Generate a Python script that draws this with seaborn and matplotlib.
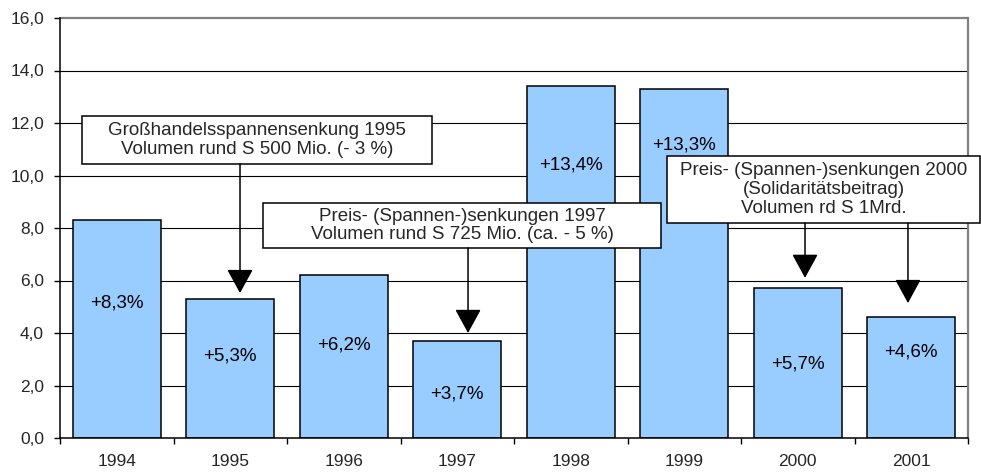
import matplotlib
matplotlib.use("Agg")
import matplotlib.pyplot as plt
from matplotlib.patches import Rectangle
from matplotlib.ticker import FixedLocator, FuncFormatter
import numpy as np
import pandas as pd
import seaborn as sns

# Jährliche Veränderung in Prozent
years = ["1994", "1995", "1996", "1997", "1998", "1999", "2000", "2001"]
growth = [8.3, 5.3, 6.2, 3.7, 13.4, 13.3, 5.7, 4.6]
# Höhe der Prozentbeschriftung innerhalb der Balken (Datenkoordinaten)
label_y = [5.14, 3.12, 3.54, 1.66, 10.4, 11.16, 2.82, 3.28]

y_ticks = [0, 2, 4, 6, 8, 10, 12, 14, 16]

# Hinweisboxen: Text, Box (x0, x1, y0, y1), Pfeile [(x, y_start, y_spitze)]
notes = [
    ("Großhandelsspannensenkung 1995\nVolumen rund S 500 Mio. (- 3 %)",
     (-0.306, 2.777, 10.44, 12.27), [(1.086, 10.44, 5.52)]),
    ("Preis- (Spannen-)senkungen 1997\nVolumen rund S 725 Mio. (ca. - 5 %)",
     (1.289, 4.795, 7.238, 8.952), [(3.095, 7.238, 4.0)]),
    ("Preis- (Spannen-)senkungen 2000\n(Solidaritätsbeitrag)\nVolumen rd S 1Mrd.",
     (4.848, 7.606, 8.19, 10.743), [(6.064, 8.19, 6.10), (6.971, 8.19, 5.14)]),
]

sns.set_style("white")
plt.rcParams["font.family"] = ["Liberation Sans", "DejaVu Sans"]

df = pd.DataFrame({"Jahr": years, "Wert": growth})

fig = plt.figure(figsize=(9.81, 4.72), dpi=100)
ax = fig.add_axes([60 / 981, 34 / 472, 908 / 981, 420 / 472])

sns.barplot(data=df, x="Jahr", y="Wert", color="#99CCFF", saturation=1,
            width=0.775, edgecolor="black", linewidth=1.1, ax=ax, zorder=2)

ax.set_xlim(-0.5, 7.5)
ax.set_ylim(0, 16)
ax.set_xlabel("")
ax.set_ylabel("")

# Gitterlinien
ax.set_axisbelow(True)
for v in y_ticks[1:-1]:
    ax.axhline(v, color="black", lw=0.8, zorder=1)
ax.axhline(16, color="#808080", lw=1.6, zorder=1, clip_on=False)

ax.spines["top"].set_visible(False)
ax.spines["right"].set_color("#808080")
ax.spines["right"].set_linewidth(1.6)
ax.spines["left"].set_color("black")
ax.spines["left"].set_linewidth(1.1)
ax.spines["bottom"].set_color("black")
ax.spines["bottom"].set_linewidth(1.1)

ax.yaxis.set_major_locator(FixedLocator(y_ticks))
ax.yaxis.set_major_formatter(FuncFormatter(lambda v, p: f"{v:.1f}".replace(".", ",")))
ax.tick_params(axis="y", which="major", direction="out", length=4.5, width=1.0,
               color="black", labelsize=12.5, pad=7, left=True)

ax.set_xticks(np.arange(len(years)))
ax.set_xticklabels(years)
ax.xaxis.set_minor_locator(FixedLocator(np.arange(-0.5, len(years), 1.0)))
ax.tick_params(axis="x", which="major", length=0, labelsize=12.5, pad=11.5)
ax.tick_params(axis="x", which="minor", direction="out", length=4.5, width=1.0,
               color="black", bottom=True)

# Prozentangaben in den Balken
for i, (v, ly) in enumerate(zip(growth, label_y)):
    ax.text(i, ly, f"+{v:.1f}%".replace(".", ","), ha="center", va="center",
            fontsize=13.5, color="black", zorder=3)

# Hinweisboxen mit Pfeilen
for text, (x0, x1, y0, y1), arrows in notes:
    ax.add_patch(Rectangle((x0, y0), x1 - x0, y1 - y0, facecolor="white",
                           edgecolor="black", lw=1.1, zorder=5, clip_on=False))
    ax.text((x0 + x1) / 2, (y0 + y1) / 2, text, ha="center", va="center",
            fontsize=13.5, linespacing=1.15, zorder=6, clip_on=False)
    for ax_x, ys, yt in arrows:
        ax.annotate("", xy=(ax_x, yt), xytext=(ax_x, ys),
                    arrowprops=dict(arrowstyle="-|>,head_length=0.75,head_width=0.41",
                                    mutation_scale=20, color="black", lw=1.1,
                                    shrinkA=0, shrinkB=0),
                    zorder=6, annotation_clip=False)

fig.savefig("out.png", dpi=100)
